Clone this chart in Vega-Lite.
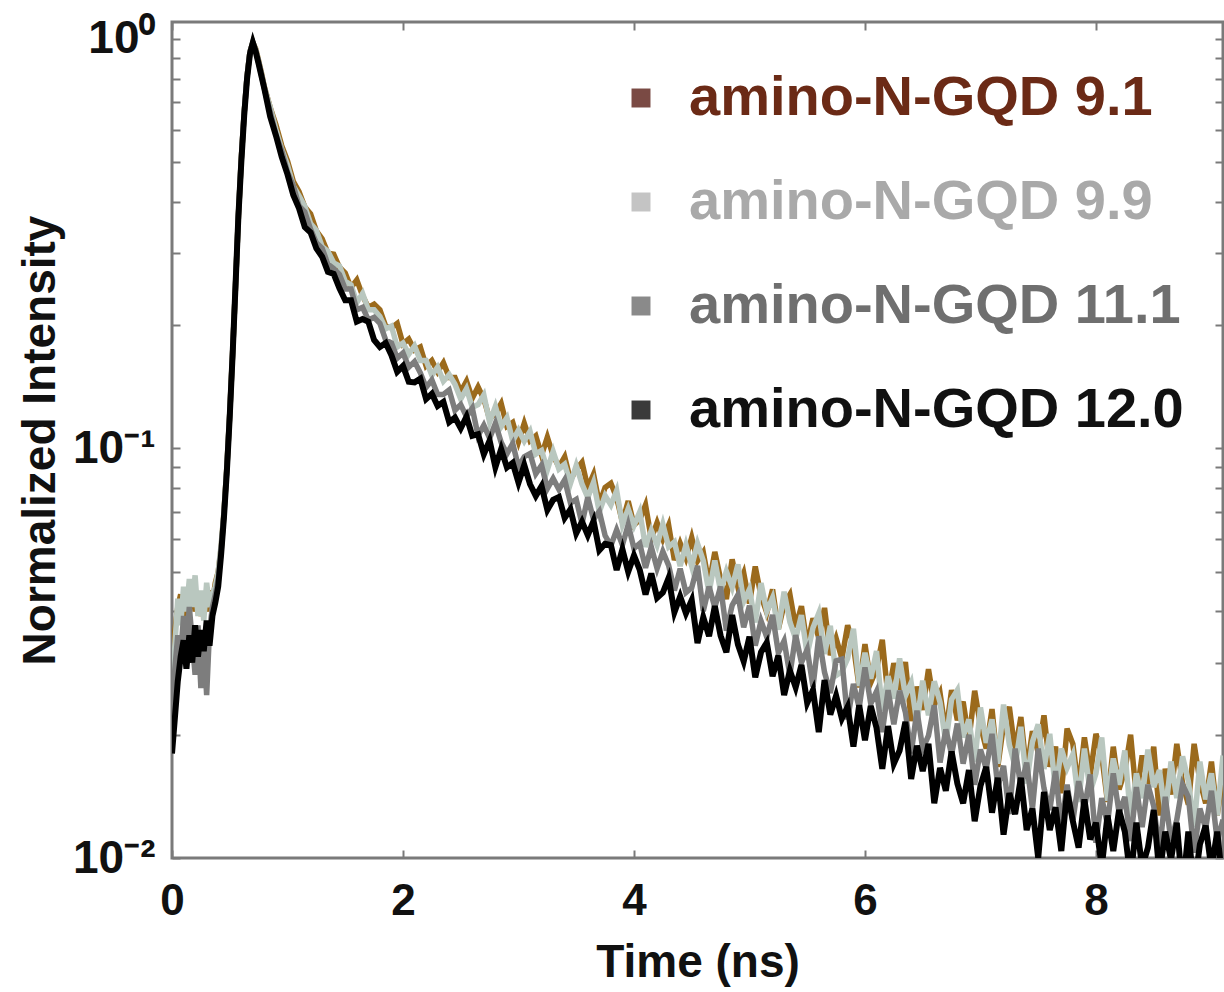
{
  "$schema": "https://vega.github.io/schema/vega-lite/v6.json",
  "width": 1051,
  "height": 836,
  "autosize": {"type": "none"},
  "padding": {"left": 172, "top": 22, "right": 1, "bottom": 134},
  "background": "white",
  "config": {
    "font": "Liberation Sans",
    "view": {"stroke": "#7a7a7a", "strokeWidth": 3},
    "axis": {"grid": false, "domain": false, "tickColor": "#7a7a7a", "tickWidth": 2, "tickSize": -8, "labelColor": "#111", "titleColor": "#111", "labelOverlap": false, "labelFlush": false}
  },
  "data": {"values": [
    {"t":0,"a":0.028,"b":0.025,"c":0.022,"d":0.018},
    {"t":0.025,"a":0.036,"b":0.033,"c":0.029,"d":0.022},
    {"t":0.05,"a":0.041,"b":0.043,"c":0.035,"d":0.027},
    {"t":0.075,"a":0.044,"b":0.037,"c":0.031,"d":0.031},
    {"t":0.1,"a":0.038,"b":0.046,"c":0.039,"d":0.034},
    {"t":0.125,"a":0.045,"b":0.04,"c":0.033,"d":0.029},
    {"t":0.15,"a":0.041,"b":0.048,"c":0.041,"d":0.035},
    {"t":0.175,"a":0.047,"b":0.041,"c":0.034,"d":0.03},
    {"t":0.2,"a":0.04,"b":0.049,"c":0.028,"d":0.037},
    {"t":0.225,"a":0.044,"b":0.039,"c":0.037,"d":0.031},
    {"t":0.25,"a":0.039,"b":0.045,"c":0.026,"d":0.036},
    {"t":0.275,"a":0.043,"b":0.038,"c":0.034,"d":0.032},
    {"t":0.3,"a":0.04,"b":0.047,"c":0.025,"d":0.038},
    {"t":0.325,"a":0.045,"b":0.041,"c":0.036,"d":0.033},
    {"t":0.35,"a":0.042,"b":0.044,"c":0.041,"d":0.039},
    {"t":0.375,"a":0.047,"b":0.046,"c":0.044,"d":0.042},
    {"t":0.4,"a":0.05,"b":0.05,"c":0.048,"d":0.046},
    {"t":0.425,"a":0.057,"b":0.058,"c":0.056,"d":0.055},
    {"t":0.45,"a":0.07,"b":0.07,"c":0.069,"d":0.068},
    {"t":0.475,"a":0.09,"b":0.09,"c":0.089,"d":0.088},
    {"t":0.5,"a":0.122,"b":0.122,"c":0.121,"d":0.12},
    {"t":0.525,"a":0.172,"b":0.172,"c":0.171,"d":0.17},
    {"t":0.55,"a":0.25,"b":0.25,"c":0.25,"d":0.25},
    {"t":0.575,"a":0.37,"b":0.37,"c":0.37,"d":0.37},
    {"t":0.6,"a":0.51,"b":0.51,"c":0.51,"d":0.5},
    {"t":0.625,"a":0.66,"b":0.66,"c":0.66,"d":0.65},
    {"t":0.65,"a":0.81,"b":0.81,"c":0.81,"d":0.8},
    {"t":0.675,"a":0.93,"b":0.93,"c":0.93,"d":0.92},
    {"t":0.7,"a":0.98,"b":0.98,"c":0.98,"d":0.98},
    {"t":0.725,"a":0.945,"b":0.94,"c":0.935,"d":0.93},
    {"t":0.75,"a":0.885,"b":0.88,"c":0.875,"d":0.87},
    {"t":0.775,"a":0.825,"b":0.82,"c":0.815,"d":0.81},
    {"t":0.8,"a":0.763,"b":0.761,"c":0.755,"d":0.755},
    {"t":0.85,"a":0.681,"b":0.681,"c":0.664,"d":0.647},
    {"t":0.9,"a":0.617,"b":0.601,"c":0.583,"d":0.581},
    {"t":0.95,"a":0.549,"b":0.538,"c":0.533,"d":0.515},
    {"t":1.0,"a":0.504,"b":0.492,"c":0.473,"d":0.467},
    {"t":1.05,"a":0.449,"b":0.438,"c":0.438,"d":0.416},
    {"t":1.1,"a":0.424,"b":0.414,"c":0.391,"d":0.386},
    {"t":1.15,"a":0.389,"b":0.39,"c":0.378,"d":0.347},
    {"t":1.2,"a":0.374,"b":0.354,"c":0.343,"d":0.337},
    {"t":1.25,"a":0.34,"b":0.341,"c":0.318,"d":0.308},
    {"t":1.3,"a":0.325,"b":0.311,"c":0.308,"d":0.294},
    {"t":1.35,"a":0.3,"b":0.303,"c":0.282,"d":0.27},
    {"t":1.4,"a":0.298,"b":0.284,"c":0.275,"d":0.267},
    {"t":1.45,"a":0.277,"b":0.279,"c":0.266,"d":0.246},
    {"t":1.5,"a":0.268,"b":0.256,"c":0.245,"d":0.23},
    {"t":1.55,"a":0.247,"b":0.251,"c":0.245,"d":0.23},
    {"t":1.6,"a":0.258,"b":0.227,"c":0.218,"d":0.204},
    {"t":1.65,"a":0.236,"b":0.239,"c":0.221,"d":0.207},
    {"t":1.7,"a":0.221,"b":0.218,"c":0.206,"d":0.204},
    {"t":1.75,"a":0.225,"b":0.218,"c":0.209,"d":0.184},
    {"t":1.8,"a":0.218,"b":0.21,"c":0.202,"d":0.177},
    {"t":1.85,"a":0.199,"b":0.196,"c":0.184,"d":0.181},
    {"t":1.9,"a":0.197,"b":0.199,"c":0.181,"d":0.169},
    {"t":1.95,"a":0.202,"b":0.177,"c":0.166,"d":0.154},
    {"t":2.0,"a":0.18,"b":0.181,"c":0.171,"d":0.159},
    {"t":2.05,"a":0.185,"b":0.17,"c":0.158,"d":0.1455},
    {"t":2.1,"a":0.174,"b":0.178,"c":0.163,"d":0.145},
    {"t":2.15,"a":0.177,"b":0.164,"c":0.153,"d":0.148},
    {"t":2.2,"a":0.159,"b":0.164,"c":0.141,"d":0.132},
    {"t":2.25,"a":0.164,"b":0.151,"c":0.147,"d":0.136},
    {"t":2.3,"a":0.154,"b":0.158,"c":0.1355,"d":0.127},
    {"t":2.35,"a":0.162,"b":0.146,"c":0.1355,"d":0.13},
    {"t":2.4,"a":0.149,"b":0.1515,"c":0.139,"d":0.116},
    {"t":2.45,"a":0.149,"b":0.1435,"c":0.124,"d":0.119},
    {"t":2.5,"a":0.1375,"b":0.132,"c":0.128,"d":0.112},
    {"t":2.55,"a":0.146,"b":0.14,"c":0.1196,"d":0.1196},
    {"t":2.6,"a":0.1326,"b":0.126,"c":0.1255,"d":0.1074},
    {"t":2.65,"a":0.1413,"b":0.128,"c":0.1075,"d":0.1084},
    {"t":2.7,"a":0.132,"b":0.1351,"c":0.114,"d":0.0968},
    {"t":2.75,"a":0.118,"b":0.116,"c":0.1059,"d":0.1045},
    {"t":2.8,"a":0.1218,"b":0.1267,"c":0.1151,"d":0.09},
    {"t":2.85,"a":0.1288,"b":0.1131,"c":0.1035,"d":0.0996},
    {"t":2.9,"a":0.1133,"b":0.1189,"c":0.0971,"d":0.0899},
    {"t":2.95,"a":0.1158,"b":0.1044,"c":0.1028,"d":0.0922},
    {"t":3.0,"a":0.1038,"b":0.1109,"c":0.0901,"d":0.0825},
    {"t":3.05,"a":0.1152,"b":0.1042,"c":0.0955,"d":0.0911},
    {"t":3.1,"a":0.1044,"b":0.1101,"c":0.0972,"d":0.0818},
    {"t":3.15,"a":0.1074,"b":0.0969,"c":0.0867,"d":0.0766},
    {"t":3.2,"a":0.0963,"b":0.0989,"c":0.091,"d":0.0809},
    {"t":3.25,"a":0.1066,"b":0.0887,"c":0.0798,"d":0.0708},
    {"t":3.3,"a":0.096,"b":0.0983,"c":0.0845,"d":0.0749},
    {"t":3.35,"a":0.0902,"b":0.0891,"c":0.0794,"d":0.0761},
    {"t":3.4,"a":0.0954,"b":0.0915,"c":0.0838,"d":0.0677},
    {"t":3.45,"a":0.0837,"b":0.0821,"c":0.0736,"d":0.071},
    {"t":3.5,"a":0.089,"b":0.0909,"c":0.0751,"d":0.0621},
    {"t":3.55,"a":0.0925,"b":0.0819,"c":0.0655,"d":0.0663},
    {"t":3.6,"a":0.0803,"b":0.0759,"c":0.076,"d":0.0614},
    {"t":3.65,"a":0.0865,"b":0.0827,"c":0.0671,"d":0.0665},
    {"t":3.7,"a":0.0733,"b":0.07,"c":0.0702,"d":0.0564},
    {"t":3.75,"a":0.0803,"b":0.0767,"c":0.0613,"d":0.0585},
    {"t":3.8,"a":0.0822,"b":0.0728,"c":0.0579,"d":0.0581},
    {"t":3.85,"a":0.0758,"b":0.0789,"c":0.0633,"d":0.0505},
    {"t":3.9,"a":0.0661,"b":0.0652,"c":0.0581,"d":0.0567},
    {"t":3.95,"a":0.0744,"b":0.0712,"c":0.0651,"d":0.05},
    {"t":4.0,"a":0.065,"b":0.0648,"c":0.057,"d":0.0548},
    {"t":4.05,"a":0.067,"b":0.07,"c":0.0586,"d":0.0505},
    {"t":4.1,"a":0.0728,"b":0.0575,"c":0.0511,"d":0.044},
    {"t":4.15,"a":0.0602,"b":0.0631,"c":0.0575,"d":0.0495},
    {"t":4.2,"a":0.0659,"b":0.0581,"c":0.0509,"d":0.0432},
    {"t":4.25,"a":0.0601,"b":0.0653,"c":0.056,"d":0.0445},
    {"t":4.3,"a":0.065,"b":0.0575,"c":0.0518,"d":0.0483},
    {"t":4.35,"a":0.0534,"b":0.0591,"c":0.045,"d":0.0398},
    {"t":4.4,"a":0.0587,"b":0.0516,"c":0.0509,"d":0.0435},
    {"t":4.45,"a":0.054,"b":0.0582,"c":0.0445,"d":0.0396},
    {"t":4.5,"a":0.0606,"b":0.0516,"c":0.0457,"d":0.0426},
    {"t":4.55,"a":0.0531,"b":0.0586,"c":0.0517,"d":0.0335},
    {"t":4.6,"a":0.0558,"b":0.0532,"c":0.0401,"d":0.0387},
    {"t":4.65,"a":0.0467,"b":0.0444,"c":0.046,"d":0.0348},
    {"t":4.7,"a":0.0559,"b":0.0533,"c":0.0409,"d":0.0412},
    {"t":4.75,"a":0.0479,"b":0.0449,"c":0.046,"d":0.0349},
    {"t":4.8,"a":0.0429,"b":0.0501,"c":0.0359,"d":0.0318},
    {"t":4.85,"a":0.0536,"b":0.0458,"c":0.0414,"d":0.0392},
    {"t":4.9,"a":0.0459,"b":0.0521,"c":0.0439,"d":0.0332},
    {"t":4.95,"a":0.0497,"b":0.0423,"c":0.0366,"d":0.0302},
    {"t":5.0,"a":0.0418,"b":0.0453,"c":0.0413,"d":0.0347},
    {"t":5.05,"a":0.0515,"b":0.0376,"c":0.033,"d":0.0276},
    {"t":5.1,"a":0.0436,"b":0.0469,"c":0.0379,"d":0.0318},
    {"t":5.15,"a":0.0397,"b":0.04,"c":0.0346,"d":0.0336},
    {"t":5.2,"a":0.0453,"b":0.0432,"c":0.0392,"d":0.0278},
    {"t":5.25,"a":0.0362,"b":0.0361,"c":0.0317,"d":0.0312},
    {"t":5.3,"a":0.0417,"b":0.0447,"c":0.0339,"d":0.025},
    {"t":5.35,"a":0.044,"b":0.0377,"c":0.028,"d":0.0287},
    {"t":5.4,"a":0.0366,"b":0.0343,"c":0.035,"d":0.0261},
    {"t":5.45,"a":0.0412,"b":0.0392,"c":0.03,"d":0.0296},
    {"t":5.5,"a":0.033,"b":0.0314,"c":0.0323,"d":0.0239},
    {"t":5.55,"a":0.0385,"b":0.0365,"c":0.0262,"d":0.0257},
    {"t":5.6,"a":0.0345,"b":0.0396,"c":0.0348,"d":0.0203},
    {"t":5.65,"a":0.0408,"b":0.0315,"c":0.0284,"d":0.0272},
    {"t":5.7,"a":0.0313,"b":0.0369,"c":0.0253,"d":0.0224},
    {"t":5.75,"a":0.0344,"b":0.0279,"c":0.0303,"d":0.0249},
    {"t":5.8,"a":0.0307,"b":0.0285,"c":0.0306,"d":0.0219},
    {"t":5.85,"a":0.037,"b":0.0307,"c":0.0218,"d":0.0234},
    {"t":5.9,"a":0.033,"b":0.0363,"c":0.0266,"d":0.0187},
    {"t":5.95,"a":0.0261,"b":0.0263,"c":0.0233,"d":0.0236},
    {"t":6.0,"a":0.0333,"b":0.0317,"c":0.0292,"d":0.0194},
    {"t":6.05,"a":0.0268,"b":0.0274,"c":0.0238,"d":0.0235},
    {"t":6.1,"a":0.0289,"b":0.032,"c":0.0255,"d":0.0208},
    {"t":6.15,"a":0.0341,"b":0.0229,"c":0.0203,"d":0.0165},
    {"t":6.2,"a":0.0247,"b":0.0278,"c":0.0257,"d":0.021},
    {"t":6.25,"a":0.0299,"b":0.0245,"c":0.0212,"d":0.017},
    {"t":6.3,"a":0.0258,"b":0.0307,"c":0.0256,"d":0.0183},
    {"t":6.35,"a":0.0301,"b":0.0249,"c":0.0227,"d":0.0215},
    {"t":6.4,"a":0.0216,"b":0.0268,"c":0.018,"d":0.0156},
    {"t":6.45,"a":0.0262,"b":0.0213,"c":0.0229,"d":0.0188},
    {"t":6.5,"a":0.023,"b":0.0271,"c":0.0185,"d":0.0163},
    {"t":6.55,"a":0.0289,"b":0.0223,"c":0.0199,"d":0.019},
    {"t":6.6,"a":0.0236,"b":0.027,"c":0.0236,"d":0.0136},
    {"t":6.65,"a":0.0253,"b":0.024,"c":0.0171,"d":0.0166},
    {"t":6.7,"a":0.0202,"b":0.0191,"c":0.0206,"d":0.0146},
    {"t":6.75,"a":0.0257,"b":0.0244,"c":0.0179,"d":0.0182},
    {"t":6.8,"a":0.0217,"b":0.0257,"c":0.0213,"d":0.0152},
    {"t":6.85,"a":0.0241,"b":0.0197,"c":0.017,"d":0.0136},
    {"t":6.9,"a":0.0194,"b":0.0218,"c":0.02,"d":0.0164},
    {"t":6.95,"a":0.0256,"b":0.0172,"c":0.0151,"d":0.0123},
    {"t":7.0,"a":0.021,"b":0.0233,"c":0.0184,"d":0.015},
    {"t":7.05,"a":0.0185,"b":0.0191,"c":0.0165,"d":0.0167},
    {"t":7.1,"a":0.0231,"b":0.0218,"c":0.0201,"d":0.0129},
    {"t":7.15,"a":0.0167,"b":0.017,"c":0.0149,"d":0.0157},
    {"t":7.2,"a":0.0212,"b":0.0237,"c":0.0168,"d":0.0114},
    {"t":7.25,"a":0.0234,"b":0.0189,"c":0.0128,"d":0.0144},
    {"t":7.3,"a":0.0182,"b":0.0167,"c":0.0185,"d":0.0128},
    {"t":7.35,"a":0.0221,"b":0.0209,"c":0.0149,"d":0.0157},
    {"t":7.4,"a":0.0162,"b":0.0152,"c":0.0171,"d":0.0117},
    {"t":7.45,"a":0.0204,"b":0.0192,"c":0.0132,"d":0.0132},
    {"t":7.5,"a":0.0181,"b":0.0212,"c":0.0185,"d":0.01},
    {"t":7.55,"a":0.0223,"b":0.0165,"c":0.0148,"d":0.0145},
    {"t":7.6,"a":0.0167,"b":0.0201,"c":0.0131,"d":0.0117},
    {"t":7.65,"a":0.0187,"b":0.0146,"c":0.0163,"d":0.0133},
    {"t":7.7,"a":0.0144,"b":0.0185,"c":0.0119,"d":0.0104},
    {"t":7.75,"a":0.0207,"b":0.0166,"c":0.0151,"d":0.0146},
    {"t":7.8,"a":0.019,"b":0.0179,"c":0.0123,"d":0.0123},
    {"t":7.85,"a":0.0147,"b":0.0137,"c":0.0154,"d":0.0106},
    {"t":7.9,"a":0.0197,"b":0.0185,"c":0.0132,"d":0.0139},
    {"t":7.95,"a":0.0159,"b":0.0145,"c":0.016,"d":0.0111},
    {"t":8.0,"a":0.0201,"b":0.0161,"c":0.0109,"d":0.0122},
    {"t":8.05,"a":0.0178,"b":0.0197,"c":0.014,"d":0.0095},
    {"t":8.1,"a":0.0137,"b":0.0138,"c":0.0121,"d":0.0127},
    {"t":8.15,"a":0.0187,"b":0.0175,"c":0.0161,"d":0.0104},
    {"t":8.2,"a":0.0147,"b":0.0151,"c":0.0129,"d":0.0131},
    {"t":8.25,"a":0.0163,"b":0.0183,"c":0.0141,"d":0.0116},
    {"t":8.3,"a":0.02,"b":0.0125,"c":0.011,"d":0.0089},
    {"t":8.35,"a":0.0141,"b":0.0161,"c":0.0149,"d":0.0122},
    {"t":8.4,"a":0.0178,"b":0.014,"c":0.0119,"d":0.0095},
    {"t":8.45,"a":0.0152,"b":0.0184,"c":0.0151,"d":0.0106},
    {"t":8.5,"a":0.0187,"b":0.0149,"c":0.0134,"d":0.0131},
    {"t":8.55,"a":0.0127,"b":0.0164,"c":0.0104,"d":0.0091},
    {"t":8.6,"a":0.0165,"b":0.0128,"c":0.0141,"d":0.0116},
    {"t":8.65,"a":0.0143,"b":0.0172,"c":0.011,"d":0.0099},
    {"t":8.7,"a":0.019,"b":0.014,"c":0.0124,"d":0.0122},
    {"t":8.75,"a":0.0152,"b":0.0177,"c":0.0151,"d":0.0083},
    {"t":8.8,"a":0.0135,"b":0.0154,"c":0.0141,"d":0.0116},
    {"t":8.85,"a":0.019,"b":0.0119,"c":0.0103,"d":0.0084},
    {"t":8.9,"a":0.0154,"b":0.0172,"c":0.0132,"d":0.0108},
    {"t":8.95,"a":0.0136,"b":0.0139,"c":0.0118,"d":0.012},
    {"t":9.0,"a":0.0172,"b":0.0161,"c":0.0146,"d":0.0094},
    {"t":9.05,"a":0.0127,"b":0.0127,"c":0.011,"d":0.0116},
    {"t":9.1,"a":0.0161,"b":0.0178,"c":0.0124,"d":0.0085}
  ]},
  "transform": [{"fold": ["a", "b", "c", "d"], "as": ["key", "value"]}],
  "resolve": {"axis": {"x": "independent", "y": "independent"}},
  "layer": [
    {
      "transform": [{"filter": "datum.key === 'a'"}],
      "mark": {"type": "line", "strokeWidth": 5.5, "clip": true},
      "encoding": {
        "x": {"field": "t", "type": "quantitative", "scale": {"domain": [0, 9.1], "nice": false, "zero": false},
          "axis": {"orient": "bottom", "values": [0, 2, 4, 6, 8], "labelFontSize": 44, "labelFontWeight": "bold", "labelPadding": 29, "title": "Time (ns)", "titleFontSize": 46, "titleFontWeight": "bold", "titlePadding": 17}},
        "y": {"field": "value", "type": "quantitative", "scale": {"type": "log", "domain": [0.01, 1.1], "nice": false},
          "axis": {"orient": "left", "values": [0.01,0.02,0.03,0.04,0.05,0.06,0.07,0.08,0.09,0.1,0.2,0.3,0.4,0.5,0.6,0.7,0.8,0.9,1],
            "labelExpr": "datum.value == 1 ? '10⁰' : datum.value == 0.1 ? '10⁻¹' : datum.value == 0.01 ? '10⁻²' : ''",
            "labelFontSize": 46, "labelFontWeight": "bold", "labelPadding": 25, "title": "Normalized Intensity", "titleFontSize": 46, "titleFontWeight": "bold", "titlePadding": 8}},
        "color": {"field": "key", "type": "nominal",
          "scale": {"domain": ["a", "b", "c", "d"], "range": ["#9b6a1c", "#b9c7bf", "#7d7d7d", "#000000"]},
          "legend": {"orient": "none", "legendX": 441, "legendY": 48, "title": null, "padding": 0,
            "labelExpr": "{'a':'amino-N-GQD 9.1','b':'amino-N-GQD 9.9','c':'amino-N-GQD 11.1','d':'amino-N-GQD 12.0'}[datum.value]",
            "labelFontSize": 56, "labelFontWeight": "bold", "labelFont": "Liberation Sans", "labelOffset": 20, "labelLimit": 700,
            "symbolType": "square", "symbolSize": 360, "symbolStrokeWidth": 0, "rowPadding": 48,
            "encode": {
              "labels": {"update": {"fill": {"signal": "{'a':'#6b2a16','b':'#a9a9a9','c':'#6f6f6f','d':'#111111'}[datum.value]"}}},
              "symbols": {"update": {"fill": {"signal": "{'a':'#7a4a44','b':'#c4c4c4','c':'#8a8a8a','d':'#3a3a3a'}[datum.value]"}, "opacity": {"value": 1}}}
            }}}
      }
    },
    {
      "transform": [{"filter": "datum.key === 'b'"}],
      "mark": {"type": "line", "strokeWidth": 5.5, "clip": true},
      "encoding": {
        "x": {"field": "t", "type": "quantitative", "axis": {"orient": "top", "values": [0, 2, 4, 6, 8], "labels": false, "title": null}},
        "y": {"field": "value", "type": "quantitative", "axis": {"orient": "right", "values": [0.01,0.02,0.03,0.04,0.05,0.06,0.07,0.08,0.09,0.1,0.2,0.3,0.4,0.5,0.6,0.7,0.8,0.9,1], "labels": false, "title": null}},
        "color": {"field": "key", "type": "nominal"}
      }
    },
    {
      "transform": [{"filter": "datum.key === 'c'"}],
      "mark": {"type": "line", "strokeWidth": 5.5, "clip": true},
      "encoding": {
        "x": {"field": "t", "type": "quantitative", "axis": null},
        "y": {"field": "value", "type": "quantitative", "axis": null},
        "color": {"field": "key", "type": "nominal"}
      }
    },
    {
      "transform": [{"filter": "datum.key === 'd'"}],
      "mark": {"type": "line", "strokeWidth": 6, "clip": true},
      "encoding": {
        "x": {"field": "t", "type": "quantitative", "axis": null},
        "y": {"field": "value", "type": "quantitative", "axis": null},
        "color": {"field": "key", "type": "nominal"}
      }
    }
  ]
}
